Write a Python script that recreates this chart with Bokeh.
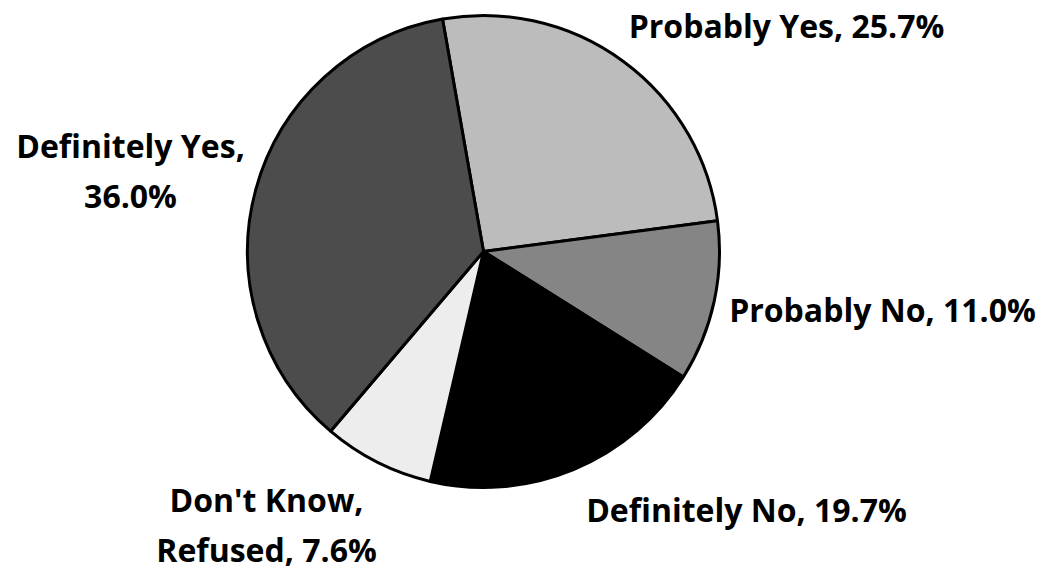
import numpy as np
from bokeh.plotting import figure
from bokeh.models import Range1d, ColumnDataSource
from bokeh.core.properties import value
from bokeh.embed import file_html
from bokeh.resources import INLINE

# ---- data (clockwise from start) ----
categories = ["Probably Yes", "Probably No", "Definitely No", "Don't Know, Refused", "Definitely Yes"]
percents = [25.7, 11.0, 19.7, 7.6, 36.0]
colors = ["#bcbcbc", "#858585", "#000000", "#ededed", "#4c4c4c"]

# ---- layout ----
W, H = 1043, 572
def dx(sx):
    return sx
def dy(sy):
    return H - sy

cx, cy = dx(483), dy(251)
R = 236
start_cw = -10.0  # degrees clockwise from 12 o'clock

# label layout: (centre x, first baseline y) in screen px, wrap flag
BASE_SHIFT = -13
label_layout = {
    "Probably Yes": (786, 38, False),
    "Probably No": (882, 322, False),
    "Definitely No": (746, 522, False),
    "Don't Know, Refused": (266, 512, True),
    "Definitely Yes": (130, 158, True),
}
LINE_GAP = 50

p = figure(width=W, height=H, output_backend="svg", toolbar_location=None,
           x_range=Range1d(0, W), y_range=Range1d(0, H), min_border=0)
p.axis.visible = False
p.grid.visible = False
p.outline_line_color = None
p.background_fill_color = "white"
p.border_fill_color = "white"

vals = np.array(percents)
cum = np.concatenate([[0], np.cumsum(vals)]) / vals.sum() * 360.0
theta_a = start_cw + cum[:-1]
theta_b = start_cw + cum[1:]
start_angle = np.deg2rad(90 - theta_b)
end_angle = np.deg2rad(90 - theta_a)

src = ColumnDataSource(dict(cat=categories, pct=percents, color=colors,
                            sa=start_angle, ea=end_angle))
p.wedge(x=cx, y=cy, radius=R, start_angle="sa", end_angle="ea",
        fill_color="color", line_color="black", line_width=3, source=src)

tx, ty, tt = [], [], []
for cat, pct in zip(categories, percents):
    sx, sy, wrap = label_layout[cat]
    label = f"{cat}, {pct:.1f}%"
    if wrap:
        idx = label.index(", ")
        lines = [label[:idx + 1], label[idx + 2:]]
    else:
        lines = [label]
    for i, ln in enumerate(lines):
        tx.append(dx(sx))
        ty.append(dy(sy + BASE_SHIFT + i * LINE_GAP))
        tt.append(ln)

p.text(x=tx, y=ty, text=tt, text_align="center", text_baseline="alphabetic",
       text_font=value("Open Sans"), text_font_style="bold",
       text_font_size="32px", text_color="black")

open("out.html", "w").write(file_html(p, INLINE))
